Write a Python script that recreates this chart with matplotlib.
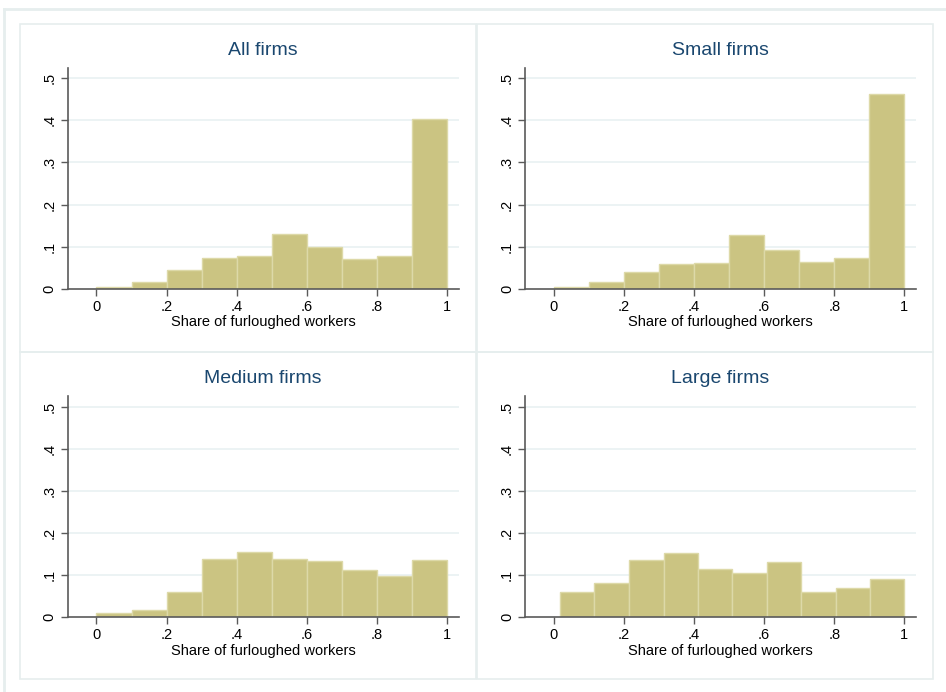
import matplotlib
matplotlib.use("Agg")
import matplotlib.pyplot as plt
from matplotlib.patches import Rectangle
from matplotlib.lines import Line2D

plt.rcParams['font.family'] = ['Liberation Sans', 'DejaVu Sans']

titles = ["All firms", "Small firms", "Medium firms", "Large firms"]

# bin edges (fractions of firms per bin)
edges_std = [0.0, 0.1, 0.2, 0.3, 0.4, 0.5, 0.6, 0.7, 0.8, 0.9, 1.0]
edges_large = [0.018, 0.116, 0.214, 0.313, 0.411, 0.509, 0.607, 0.705, 0.804, 0.902, 1.0]

all_firms = [0.004, 0.016, 0.044, 0.074, 0.078, 0.130, 0.099, 0.070, 0.078, 0.403]
small_firms = [0.004, 0.016, 0.040, 0.059, 0.060, 0.127, 0.092, 0.063, 0.073, 0.462]
medium_firms = [0.010, 0.017, 0.059, 0.138, 0.155, 0.138, 0.133, 0.112, 0.097, 0.135]
large_firms = [0.059, 0.081, 0.135, 0.151, 0.113, 0.105, 0.131, 0.059, 0.070, 0.090]

series = [(edges_std, all_firms), (edges_std, small_firms),
          (edges_std, medium_firms), (edges_large, large_firms)]

x_ticks = [0, 0.2, 0.4, 0.6, 0.8, 1.0]
x_labels = ["0", ".2", ".4", ".6", ".8", "1"]
y_ticks = [0, 0.1, 0.2, 0.3, 0.4, 0.5]
y_labels = ["0", ".1", ".2", ".3", ".4", ".5"]

W, H = 946, 692
fig = plt.figure(figsize=(W / 100, H / 100), dpi=100)
fig.patch.set_facecolor('white')

bar_color = '#CBC482'
edge_color = '#DDD9A8'
grid_color = '#E9F1F2'
title_color = '#1A476F'
axis_color = '#5A5A5A'
frame_color = '#E6EEEE'

# outer frame lines (left and top)
fig.add_artist(Line2D([4 / W, 4 / W], [0, 1 - 9 / H], transform=fig.transFigure,
                      color=frame_color, lw=2))
fig.add_artist(Line2D([4 / W, 1], [1 - 9 / H, 1 - 9 / H], transform=fig.transFigure,
                      color=frame_color, lw=2))

# panel frames (pixel boxes: x0, y0, x1, y1)
panels = [(20, 24, 476, 352), (477, 24, 933, 352),
          (20, 352, 476, 679), (477, 352, 933, 679)]
# axes boxes (left x, top y) in pixels; width/height shared
axes_pos = [(67.7, 67.7), (525.0, 67.7), (67.7, 396.0), (525.0, 396.0)]
ax_w, ax_h = 391.0, 221.0

for i in range(4):
    px0, py0, px1, py1 = panels[i]
    fig.add_artist(Rectangle((px0 / W, 1 - py1 / H), (px1 - px0) / W, (py1 - py0) / H,
                             transform=fig.transFigure, fill=False,
                             edgecolor=frame_color, lw=1.2))

    lx, ty = axes_pos[i]
    ax = fig.add_axes([lx / W, 1 - (ty + ax_h) / H, ax_w / W, ax_h / H])
    edges, vals = series[i]
    widths = [edges[k + 1] - edges[k] for k in range(len(vals))]
    ax.bar(edges[:-1], vals, width=widths, align='edge', color=bar_color,
           edgecolor=edge_color, linewidth=1.0, zorder=3)

    ax.set_xlim(-0.082, 1.033)
    ax.set_ylim(0, 0.525)
    ax.set_xticks(x_ticks)
    ax.set_xticklabels(x_labels, fontsize=10.5)
    ax.set_yticks(y_ticks)
    ax.set_yticklabels(y_labels, fontsize=10.5, rotation=90, va='center')
    for t in [0.1, 0.2, 0.3, 0.4, 0.5]:
        ax.axhline(t, color=grid_color, lw=1.2, zorder=1)

    for s in ['top', 'right']:
        ax.spines[s].set_visible(False)
    for s in ['left', 'bottom']:
        ax.spines[s].set_color(axis_color)
        ax.spines[s].set_linewidth(1.2)
        ax.spines[s].set_zorder(4)
    ax.tick_params(axis='both', length=5, width=1.0, color=axis_color,
                   labelcolor='black', pad=3)
    ax.tick_params(axis='y', pad=3)
    ax.set_xlabel("Share of furloughed workers", fontsize=10.5, labelpad=1)
    ax.set_title(titles[i], fontsize=14, color=title_color, pad=9)
    ax.set_facecolor('white')

fig.savefig("out.png", dpi=100, facecolor='white')
